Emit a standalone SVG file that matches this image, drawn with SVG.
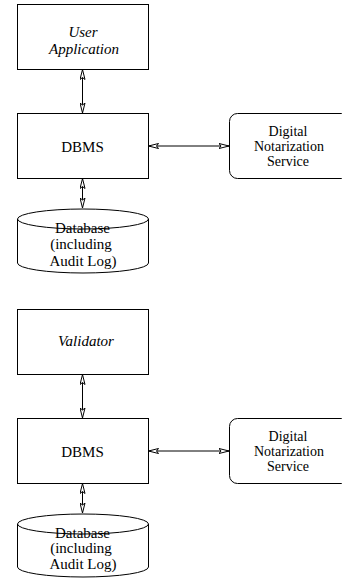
<svg xmlns="http://www.w3.org/2000/svg" width="342" height="579" viewBox="0 0 342 579">
<style>
.box{fill:#fff;stroke:#000;stroke-width:1}
text{font-family:'Liberation Serif','Times New Roman',Times,serif;font-size:15px;fill:#000;text-anchor:middle}
.i{font-style:italic}
.s{font-size:14px}
.c{fill:none;stroke:#000;stroke-width:1;marker-start:url(#ah);marker-end:url(#ah)}
</style>
<defs>
<marker id="ah" viewBox="0 0 11 6" markerWidth="11" markerHeight="6" refX="10.5" refY="3" orient="auto-start-reverse" markerUnits="userSpaceOnUse">
<path d="M0.5,0.5 L10.5,3 L0.5,5.5 L2.5,3 Z" fill="#fff" stroke="#000" stroke-width="1"/>
</marker>
</defs>
<rect width="342" height="579" fill="#fff"/>
<g id="connectors">
<line class="c" x1="82.5" y1="69.5" x2="82.5" y2="113"/>
<line class="c" x1="82.5" y1="178.5" x2="82.5" y2="208"/>
<line class="c" x1="148.5" y1="146" x2="229" y2="146"/>
<line class="c" x1="82.5" y1="374.5" x2="82.5" y2="418"/>
<line class="c" x1="82.5" y1="483.5" x2="82.5" y2="513"/>
<line class="c" x1="148.5" y1="451" x2="229" y2="451"/>
</g>
<g id="user-app">
<rect class="box" x="17.5" y="4.5" width="131" height="65"/>
<text class="i" x="83" y="37">User</text>
<text class="i" x="84" y="54">Application</text>
</g>
<g id="dbms1">
<rect class="box" x="17.5" y="113.5" width="131" height="65"/>
<text x="82.5" y="152">DBMS</text>
</g>
<g id="dns1">
<rect class="box" x="229.5" y="113.5" width="120" height="65" rx="8" ry="8"/>
<text class="s" x="288" y="136">Digital</text>
<text class="s" x="289" y="151">Notarization</text>
<text class="s" x="288" y="166">Service</text>
</g>
<g id="db1">
<path class="box" d="M17.5,219 A65.5,10 0 0 1 148.5,219 L148.5,263 A65.5,10 0 0 1 17.5,263 Z"/>
<path d="M17.5,219 A65.5,10 0 0 0 148.5,219" fill="none" stroke="#000" stroke-width="1"/>
<text x="82.5" y="233">Database</text>
<text x="81" y="249">(including</text>
<text x="83" y="266">Audit Log)</text>
</g>
<g id="validator">
<rect class="box" x="17.5" y="309.5" width="131" height="65"/>
<text class="i" x="86" y="346">Validator</text>
</g>
<g id="dbms2">
<rect class="box" x="17.5" y="418.5" width="131" height="65"/>
<text x="82.5" y="457">DBMS</text>
</g>
<g id="dns2">
<rect class="box" x="229.5" y="418.5" width="120" height="65" rx="8" ry="8"/>
<text class="s" x="288" y="441">Digital</text>
<text class="s" x="289" y="456">Notarization</text>
<text class="s" x="288" y="471">Service</text>
</g>
<g id="db2">
<path class="box" d="M17.5,524 A65.5,10 0 0 1 148.5,524 L148.5,567 A65.5,10 0 0 1 17.5,567 Z"/>
<path d="M17.5,524 A65.5,10 0 0 0 148.5,524" fill="none" stroke="#000" stroke-width="1"/>
<text x="82.5" y="538">Database</text>
<text x="81" y="553">(including</text>
<text x="83" y="569">Audit Log)</text>
</g>
</svg>
